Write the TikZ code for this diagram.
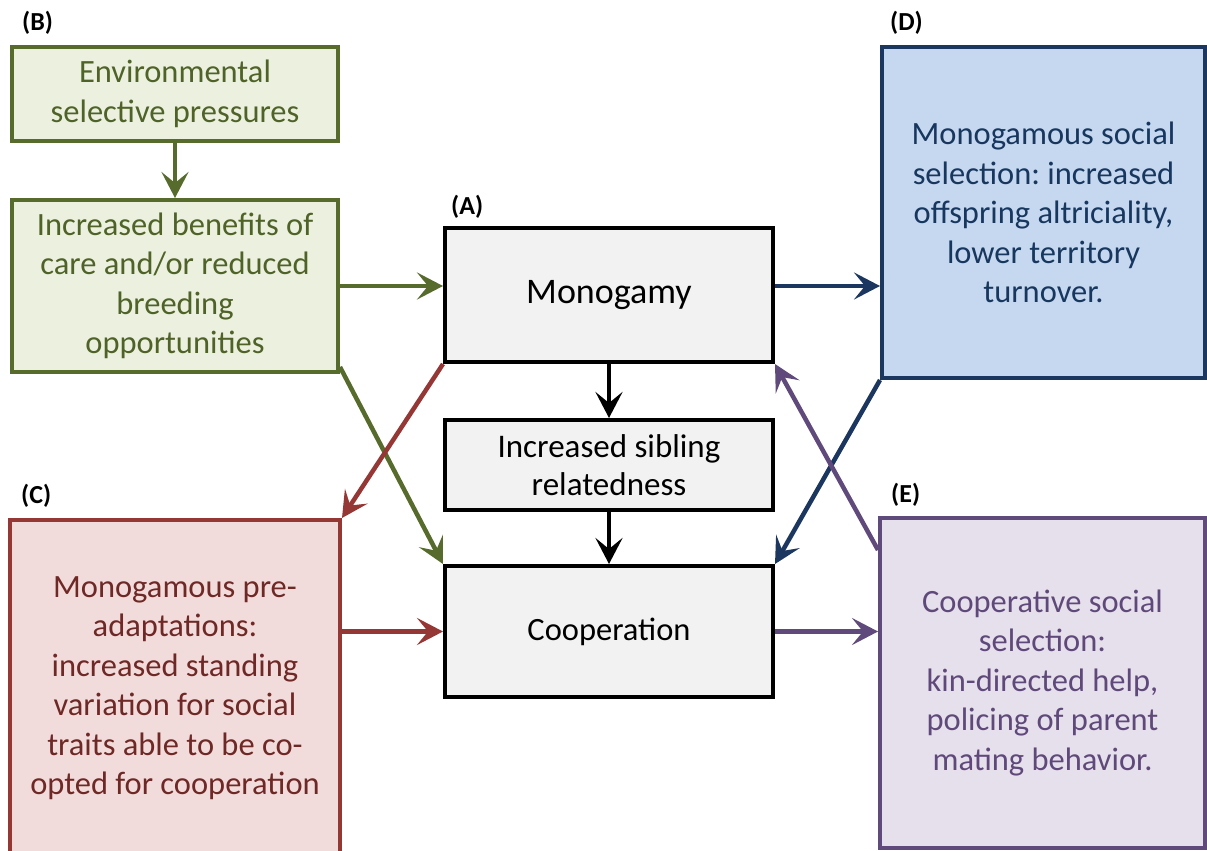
\documentclass[tikz,border=0pt]{standalone}
\usepackage{fontspec}
\setmainfont{Carlito}
\usetikzlibrary{arrows.meta}
\frenchspacing

\definecolor{grnline}{RGB}{86,107,44}
\definecolor{grnfill}{RGB}{235,241,222}
\definecolor{grntext}{RGB}{79,98,40}
\definecolor{redline}{RGB}{149,55,53}
\definecolor{redfill}{RGB}{242,220,219}
\definecolor{redtext}{RGB}{110,40,38}
\definecolor{blueline}{RGB}{28,55,95}
\definecolor{bluefill}{RGB}{198,216,240}
\definecolor{bluetext}{RGB}{23,55,94}
\definecolor{purpline}{RGB}{96,74,123}
\definecolor{purpfill}{RGB}{230,224,236}
\definecolor{purptext}{RGB}{95,73,122}
\definecolor{grayfill}{RGB}{242,242,242}

\tikzset{
  box/.style={draw, line width=4pt, align=center, inner sep=0pt,
    font=\fontsize{32.5}{39.5}\selectfont},
  greenbox/.style={box, draw=grnline, fill=grnfill, text=grntext},
  redbox/.style={box, draw=redline, fill=redfill, text=redtext},
  bluebox/.style={box, draw=blueline, fill=bluefill, text=bluetext},
  purpbox/.style={box, draw=purpline, fill=purpfill, text=purptext},
  graybox/.style={box, draw=black, fill=grayfill, text=black},
  tag/.style={anchor=south west, inner sep=0pt, font=\bfseries\fontsize{26}{28}\selectfont},
  conn/.style={line width=4.5pt, -{Stealth[length=26pt,width=27pt,inset=11pt]}},
  garrow/.style={conn, draw=grnline, fill=grnline},
  rarrow/.style={conn, draw=redline, fill=redline},
  barrow/.style={conn, draw=blueline, fill=blueline},
  parrow/.style={conn, draw=purpline, fill=purpline},
  karrow/.style={conn, draw=black, fill=black}
}

\begin{document}
\begin{tikzpicture}[x=1pt, y=-1pt]
  %%%%% START %%%%%
  \useasboundingbox (0,0) rectangle (1207,851);

  % (B) environment
  \node[greenbox, minimum width=326pt, minimum height=94pt] (envsel) at (175,94)
    {Environmental\\selective pressures};
  \node[greenbox, minimum width=326pt, minimum height=172pt] (benefits) at (175,286)
    {Increased benefits of\\care and/or reduced\\breeding\\opportunities};

  % (A) central chain
  \node[graybox, minimum width=328pt, minimum height=134pt, font=\fontsize{36}{42}\selectfont] (monog) at (609,295)
    {Monogamy};
  \node[graybox, minimum width=328pt, minimum height=90pt, font=\fontsize{33}{38}\selectfont] (sib) at (609,465)
    {Increased sibling\\relatedness};
  \node[graybox, minimum width=328pt, minimum height=131pt, font=\fontsize{32.5}{38}\selectfont] (coop) at (609,631.5)
    {Cooperation};

  % (C) pre-adaptations
  \node[redbox, minimum width=330pt, minimum height=336pt] (preadapt) at (175,688)
    {Monogamous pre-\\adaptations:\\increased standing\\variation for social\\traits able to be co-\\opted for cooperation};

  % (D) and (E) social selection
  \node[bluebox, minimum width=323pt, minimum height=331pt] (socsel) at (1043.5,212.5)
    {Monogamous social\\selection: increased\\offspring altriciality,\\lower territory\\turnover.};
  \node[purpbox, minimum width=325pt, minimum height=330pt] (coopsel) at (1042.5,683)
    {Cooperative social\\selection:\\kin-directed help,\\policing of parent\\mating behavior.};

  % tags
  \node[tag] (tagA) at ([xshift=8pt,yshift=7pt]monog.north west) {(A)};
  \node[tag] (tagB) at ([xshift=12pt,yshift=10pt]envsel.north west) {(B)};
  \node[tag] (tagC) at ([xshift=13pt,yshift=10pt]preadapt.north west) {(C)};
  \node[tag] (tagD) at ([xshift=10pt,yshift=10pt]socsel.north west) {(D)};
  \node[tag] (tagE) at ([xshift=13pt,yshift=9pt]coopsel.north west) {(E)};

  % arrows
  \draw[garrow] (envsel) -- (benefits);
  \draw[garrow] (benefits.east) -- (benefits.east -| monog.west);
  \draw[garrow] ([yshift=7pt]benefits.south east) -- (coop.north west);
  \draw[karrow] (monog) -- (sib);
  \draw[karrow] (sib) -- (coop);
  \draw[rarrow] (monog.south west) -- (preadapt.north east);
  \draw[rarrow] (preadapt.east |- coop.west) -- (coop.west);
  \draw[barrow] (monog.east |- benefits.east) -- (benefits.east -| socsel.west);
  \draw[barrow] (socsel.south west) -- (coop.north east);
  \draw[parrow] ([yshift=-34pt]coopsel.north west) -- (monog.south east);
  \draw[parrow] (coop.east) -- (coop.east -| coopsel.west);
  %%%%% END %%%%%
\end{tikzpicture}
\end{document}
